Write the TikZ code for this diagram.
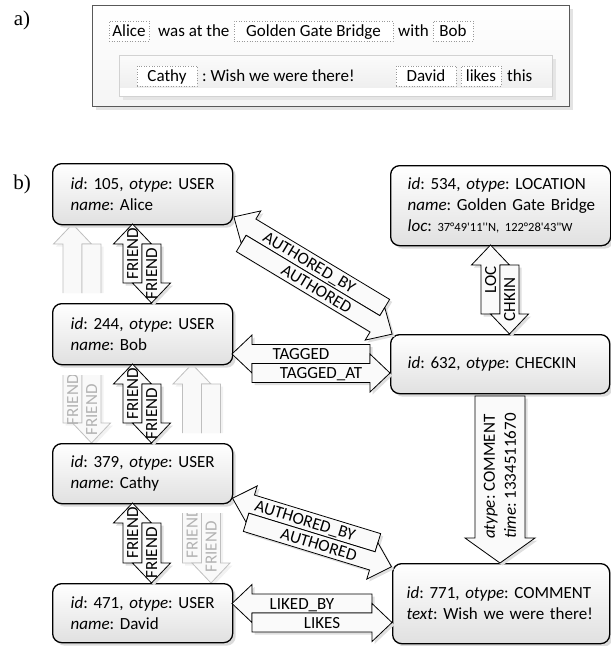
\documentclass[tikz,border=0pt]{standalone}
\usepackage{fontspec}
\setmainfont{Carlito}
\newfontfamily\labfont{Liberation Serif}
\usetikzlibrary{shadows}
% cx, cy, rotation, length, mirror, style, shadow style
\newcommand\pairshapes[7]{%
 \begin{scope}[shift={(#1+2.5,#2+2.5)},rotate=#3,xscale=#5]
  \fill[#7] ({-#4/2},-9.5) -- ({-#4/2+20},-28.5) -- ({-#4/2+20},-19) -- ({#4/2-20},-19) -- ({#4/2-20},0) -- ({-#4/2+20},0) -- ({-#4/2+20},9.5) -- cycle;
  \fill[#7] ({#4/2},9.5) -- ({#4/2-20},28.5) -- ({#4/2-20},19) -- ({-#4/2+20},19) -- ({-#4/2+20},0) -- ({#4/2-20},0) -- ({#4/2-20},-9.5) -- cycle;
 \end{scope}
 \begin{scope}[shift={(#1,#2)},rotate=#3,xscale=#5]
  \filldraw[#6] ({-#4/2},-9.5) -- ({-#4/2+20},-28.5) -- ({-#4/2+20},-19) -- ({#4/2-20},-19) -- ({#4/2-20},0) -- ({-#4/2+20},0) -- ({-#4/2+20},9.5) -- cycle;
  \filldraw[#6] ({#4/2},9.5) -- ({#4/2-20},28.5) -- ({#4/2-20},19) -- ({-#4/2+20},19) -- ({-#4/2+20},0) -- ({#4/2-20},0) -- ({#4/2-20},-9.5) -- cycle;
 \end{scope}}
\newcommand\oneline[1]{\mbox{#1}}
\begin{document}
\frenchspacing
\begin{tikzpicture}[x=1pt,y=-1pt,font=\fontsize{17}{21}\selectfont,
  obj/.style={draw=black,line width=1.3pt,rounded corners=9pt,top color=white,bottom color=gray!24,
    inner xsep=18pt,inner ysep=0pt,align=left,anchor=north west,
    drop shadow={shadow xshift=3pt,shadow yshift=-3pt,opacity=1,fill=gray!28,draw=none}},
  wtxt/.style={inner xsep=0pt,inner ysep=0pt,text height=15.5pt,text depth=4.5pt},
  dbox/.style={wtxt,draw=gray!80,dotted,line width=0.6pt,fill=white},
  arr/.style={draw=black,line width=0.8pt,fill=gray!4,line join=miter},
  garr/.style={draw=gray!50,line width=0.8pt,fill=gray!5},
  ashadow/.style={fill=gray!25},
  gshadow/.style={fill=gray!10},
  lbl/.style={inner sep=0pt,text height=11pt,text depth=0pt,transform shape},
  glbl/.style={lbl,text=gray!60},
  plabel/.style={font=\labfont\fontsize{21}{21}\selectfont,inner sep=0pt}]
\useasboundingbox (0,0) rectangle (611,646);

% ---------- part a ----------
\node[plabel] (la) at (22,20) {a)};
\fill[gray!22] (96,9) rectangle (573,110);
\path[draw=gray!70!black,line width=1pt,top color=white,bottom color=gray!8] (92,5) rectangle (569,106);
\fill[gray!20] (123,59) rectangle (556,100);
\path[top color=gray!3,bottom color=gray!13] (119,55) rectangle (552,88);
\fill[white] (119,88) rectangle (552,96);
\draw[gray!35,line width=0.6pt] (119,55) rectangle (552,96);

\node[dbox,minimum width=40pt] (aAlice) at (129,31) {Alice};
\node[wtxt,anchor=west] (aWas) at (158,31) {was at the};
\node[dbox,minimum width=159pt] (aGGB) at (313.5,31) {Golden Gate Bridge};
\node[wtxt,anchor=west] (aWith) at (398,31) {with};
\node[dbox,minimum width=40pt] (aBob) at (453,31) {Bob};
\node[dbox,minimum width=60pt] (aCathy) at (167,76) {Cathy};
\node[wtxt,anchor=west] (aWish) at (202,76) {: Wish we were there!};
\node[dbox,minimum width=60pt] (aDavid) at (426,76) {David};
\node[dbox,minimum width=40pt] (aLikes) at (481,76) {likes};
\node[wtxt,anchor=west] (aThis) at (507,76) {this};

% ---------- part b ----------
\node[plabel] (lb) at (22,184) {b)};

% gray (hidden) friend pairs
\begin{scope}
 \clip (0,0) rectangle (611,293) (0,375) rectangle (611,646);
 \pairshapes{82}{333.5}{90}{219}{-1}{garr}{gshadow}
 \begin{scope}[shift={(82,333.5)},rotate=90]
  \node[glbl] (g1a) at (-66.5,-9.5) {FRIEND};
  \node[glbl] (g1b) at (-76.5,9.5) {FRIEND};
 \end{scope}
\end{scope}
\begin{scope}
 \clip (0,0) rectangle (611,433) (0,513) rectangle (611,646);
 \pairshapes{201.5}{473.5}{90}{219}{-1}{garr}{gshadow}
 \begin{scope}[shift={(201.5,473.5)},rotate=90]
  \node[glbl] (g2a) at (-59.5,-9.5) {FRIEND};
  \node[glbl] (g2b) at (-73.5,9.5) {FRIEND};
 \end{scope}
\end{scope}

% objects
\node[obj,text width=144pt,minimum height=61pt] (alice) at (52,163) {\oneline{\textit{id}: 105, \textit{otype}: USER}\\\oneline{\textit{name}: Alice}};
\node[obj,text width=144pt,minimum height=61pt] (bob) at (52,303) {\oneline{\textit{id}: 244, \textit{otype}: USER}\\\oneline{\textit{name}: Bob}};
\node[obj,text width=144pt,minimum height=60pt] (cathy) at (52,443) {\oneline{\textit{id}: 379, \textit{otype}: USER}\\\oneline{\textit{name}: Cathy}};
\node[obj,text width=144pt,minimum height=59pt] (david) at (52,583) {\oneline{\textit{id}: 471, \textit{otype}: USER}\\\oneline{\textit{name}: David}};
\node[obj,inner xsep=17pt,text width=186pt,minimum height=80pt] (location) at (390,165) {\oneline{\textit{id}: 534, \textit{otype}: LOCATION}\\\oneline{\textit{name}: Golden Gate Bridge}\\\oneline{\textit{loc}: {\fontsize{12.5}{14}\selectfont 37°49\textquotesingle 11\textquotesingle\textquotesingle N, 122°28\textquotesingle 43\textquotedbl W}}};
\node[obj,inner xsep=17pt,text width=185pt,minimum height=59pt] (checkin) at (390,334) {\oneline{\textit{id}: 632, \textit{otype}: CHECKIN}};
\node[obj,inner xsep=14pt,text width=189pt,minimum height=80pt] (comment) at (392,563) {\oneline{\textit{id}: 771, \textit{otype}: COMMENT}\\\oneline{\textit{text}: Wish we were there!}};

% black friend pairs
\pairshapes{142}{263.5}{90}{79}{-1}{arr}{ashadow}
\begin{scope}[shift={(142,263.5)},rotate=90]
 \node[lbl] (f1a) at (10,-9.5) {FRIEND};
 \node[lbl] (f1b) at (-10,9.5) {FRIEND};
\end{scope}
\pairshapes{142}{403.5}{90}{79}{-1}{arr}{ashadow}
\begin{scope}[shift={(142,403.5)},rotate=90]
 \node[lbl] (f2a) at (10,-9.5) {FRIEND};
 \node[lbl] (f2b) at (-10,9.5) {FRIEND};
\end{scope}
\pairshapes{142}{543}{90}{80}{-1}{arr}{ashadow}
\begin{scope}[shift={(142,543)},rotate=90]
 \node[lbl] (f3a) at (10,-9.5) {FRIEND};
 \node[lbl] (f3b) at (-10,9.5) {FRIEND};
\end{scope}

% LOC / CHKIN
\pairshapes{500}{289.5}{90}{89}{-1}{arr}{ashadow}
\begin{scope}[shift={(500,289.5)},rotate=90]
 \node[lbl] (loclbl) at (10,-9.5) {LOC};
 \node[lbl] (chklbl) at (-10,9.5) {CHKIN};
\end{scope}

% TAGGED / TAGGED_AT
\pairshapes{311}{363.5}{0}{158}{1}{arr}{ashadow}
\begin{scope}[shift={(311,363.5)}]
 \node[lbl] (taglbl) at (-10,-9.5) {TAGGED};
 \node[lbl] (tagatlbl) at (10,9.5) {TAGGED\_AT};
\end{scope}

% LIKED_BY / LIKES
\pairshapes{312}{613}{0}{160}{1}{arr}{ashadow}
\begin{scope}[shift={(312,613)}]
 \node[lbl] (likedlbl) at (-10,-9.5) {LIKED\_BY};
 \node[lbl] (likeslbl) at (10,9.5) {LIKES};
\end{scope}

% AUTHORED_BY / AUTHORED (Alice - checkin)
\pairshapes{313}{275.5}{-31}{196}{1}{arr}{ashadow}
\begin{scope}[shift={(313,275.5)},rotate=-31]
 \node[lbl] (ab1) at (-10,-9.5) {AUTHORED\_BY};
 \node[lbl] (au1) at (10,9.5) {AUTHORED};
\end{scope}

% AUTHORED_BY / AUTHORED (Cathy - comment)
\pairshapes{312}{532.5}{-17}{172}{1}{arr}{ashadow}
\begin{scope}[shift={(312,532.5)},rotate=-17]
 \node[lbl] (ab2) at (-10,-9.5) {AUTHORED\_BY};
 \node[lbl] (au2) at (10,9.5) {AUTHORED};
\end{scope}

% COMMENT association
\fill[ashadow] (477.5,398.5) -- (527.5,398.5) -- (527.5,540.5) -- (537.5,540.5) -- (502.5,565.5) -- (467.5,540.5) -- (477.5,540.5) -- cycle;
\filldraw[arr] (475,396) -- (525,396) -- (525,538) -- (535,538) -- (500,563) -- (465,538) -- (475,538) -- cycle;
\node[rotate=90,align=left,inner sep=0pt] (cmtlbl) at (500,476) {\textit{atype}: COMMENT\\\textit{time}: 1334511670};
\end{tikzpicture}
\end{document}
